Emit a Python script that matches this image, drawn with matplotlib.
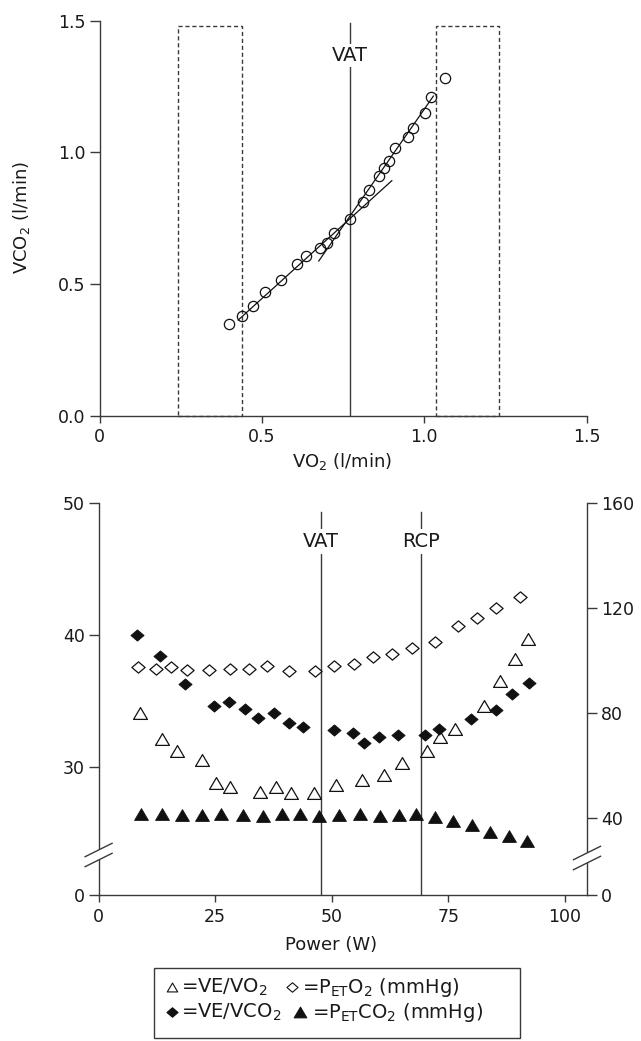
import matplotlib
matplotlib.use("Agg")
import matplotlib.pyplot as plt
from matplotlib.patches import Rectangle, Polygon
from matplotlib.lines import Line2D
from matplotlib.path import Path

plt.rcParams['font.family'] = ['DejaVu Sans']
plt.rcParams['mathtext.fontset'] = 'custom'
plt.rcParams['mathtext.rm'] = 'DejaVu Sans'

# ---------------- top panel data ----------------
vo2 = [0.400, 0.439, 0.474, 0.511, 0.558, 0.607, 0.635, 0.679, 0.700, 0.722, 0.772,
       0.810, 0.830, 0.860, 0.877, 0.892, 0.909, 0.949, 0.964, 1.001, 1.021, 1.063]
vco2 = [0.348, 0.379, 0.418, 0.470, 0.515, 0.577, 0.609, 0.638, 0.658, 0.694, 0.746,
        0.812, 0.856, 0.912, 0.941, 0.968, 1.016, 1.058, 1.093, 1.149, 1.211, 1.282]
fit_low_vo2 = [0.427, 0.900]
fit_low_vco2 = [0.364, 0.893]
fit_high_vo2 = [0.675, 1.028]
fit_high_vco2 = [0.588, 1.214]
vat_vo2 = 0.771
window_left = [0.242, 0.440]
window_right = [1.035, 1.231]
window_top = 1.48
top_ticks = [0, 0.5, 1.0, 1.5]
top_xticklabels = ['0', '0.5', '1.0', '1.5']
top_yticklabels = ['0.0', '0.5', '1.0', '1.5']

# ---------------- bottom panel data ----------------
power_ve_vo2 = [8.8, 13.5, 16.8, 22.1, 25.1, 28.2, 34.6, 38.1, 41.2, 46.1, 50.8,
                56.5, 61.2, 65.0, 70.5, 73.2, 76.3, 82.7, 86.0, 89.3, 92.0]
ve_vo2 = [34.1, 32.1, 31.2, 30.5, 28.8, 28.5, 28.1, 28.5, 28.0, 28.0, 28.6,
          29.0, 29.4, 30.3, 31.2, 32.3, 32.9, 34.6, 36.5, 38.2, 39.7]
power_ve_vco2 = [8.2, 13.1, 18.5, 24.7, 27.9, 31.4, 34.2, 37.7, 40.8, 43.9, 50.4,
                 54.5, 57.0, 60.2, 64.2, 69.9, 73.0, 79.8, 85.1, 88.7, 92.2]
ve_vco2 = [40.0, 38.4, 36.3, 34.6, 34.9, 34.4, 33.7, 34.1, 33.3, 33.0, 32.8,
           32.6, 31.8, 32.3, 32.4, 32.4, 32.9, 33.6, 34.3, 35.5, 36.4]
power_peto2 = [8.5, 12.2, 15.6, 18.9, 23.6, 28.2, 32.3, 36.0, 40.8, 46.4,
               50.5, 54.7, 58.8, 62.8, 67.2, 72.2, 77.0, 81.1, 85.1, 90.3]
peto2 = [97.6, 96.8, 97.4, 96.4, 96.4, 96.6, 96.8, 97.9, 96.0, 96.1,
         97.9, 98.7, 101.2, 102.5, 104.6, 107.2, 113.1, 116.1, 119.9, 124.3]
power_petco2 = [9.0, 13.5, 17.9, 22.2, 26.3, 31.0, 35.3, 39.3, 43.1, 47.3, 51.5,
                56.0, 60.4, 64.4, 68.1, 72.2, 76.0, 80.0, 83.8, 87.9, 91.8]
petco2 = [41.7, 41.6, 41.2, 41.1, 41.5, 41.2, 40.9, 41.5, 41.5, 40.6, 41.2,
          41.7, 40.6, 41.1, 41.5, 40.3, 38.9, 37.3, 34.5, 33.2, 31.3]
vat_power = 47.6
rcp_power = 69.1
left_ticks = [30, 40, 50]
right_ticks = [40, 80, 120, 160]
power_ticks = [0, 25, 50, 75, 100]

# ---------------- layout helpers ----------------
W, H = 641, 1041
fig = plt.figure(figsize=(W / 100, H / 100), dpi=100)
fig.patch.set_facecolor('white')


def fx(p):
    return p / W


def fy(p):
    return 1 - p / H


SPC = '#3a3a3a'
TXT = '#1a1a1a'
FS = 12.5      # tick labels
FL = 13        # axis labels
FA = 14        # VAT / RCP annotations
FG = 14        # legend text

# ================= TOP PANEL =================
ax1 = fig.add_axes([fx(99.5), fy(416), (586.7 - 99.5) / W, (416 - 20.7) / H])
ax1.set_xlim(0, 1.5)
ax1.set_ylim(0, 1.5)
for s in ['top', 'right']:
    ax1.spines[s].set_visible(False)
for s in ['left', 'bottom']:
    ax1.spines[s].set_color(SPC)
    ax1.spines[s].set_linewidth(1.0)
ax1.set_xticks(top_ticks)
ax1.set_xticklabels(top_xticklabels)
ax1.set_yticks(top_ticks)
ax1.set_yticklabels(top_yticklabels)
ax1.tick_params(axis='x', length=5, width=1.0, color=SPC, pad=4, labelsize=FS, labelcolor=TXT)
ax1.tick_params(axis='y', length=7, width=1.0, color=SPC, pad=3, labelsize=FS, labelcolor=TXT)

for xs in (window_left, window_right):
    ax1.add_patch(Rectangle((xs[0], 0), xs[1] - xs[0], window_top, fill=False,
                            edgecolor=SPC, lw=1.0, ls=(0, (3, 2)), clip_on=False))

ax1.plot([vat_vo2, vat_vo2], [0, 1.49], color=SPC, lw=1.0, zorder=2)
ax1.text(vat_vo2, 1.367, 'VAT', ha='center', va='center', fontsize=FA, color=TXT,
         bbox=dict(facecolor='white', edgecolor='none', pad=1.5), zorder=3)

ax1.plot(fit_low_vo2, fit_low_vco2, color='#111111', lw=0.9, zorder=4)
ax1.plot(fit_high_vo2, fit_high_vco2, color='#111111', lw=0.9, zorder=4)
ax1.plot(vo2, vco2, ls='none', marker='o', ms=7.4, mfc='none', mec='#111111',
         mew=0.9, zorder=5, clip_on=False)

fig.text(fx(342), fy(462), 'VO$\\mathregular{_2}$ (l/min)', ha='center', va='center',
         fontsize=FL, color=TXT)
fig.text(fx(22), fy(218), 'VCO$\\mathregular{_2}$ (l/min)', ha='center', va='center',
         fontsize=FL, color=TXT, rotation=90)

# ================= BOTTOM PANEL =================
top_px, bot_px = 503, 895
L_bottom = 50 - (bot_px - top_px) / 13.2
R_bottom = 160 - (bot_px - top_px) / 2.625

ax2 = fig.add_axes([fx(98.6), fy(bot_px), (587 - 98.6) / W, (bot_px - top_px) / H])
ax2.set_xlim(0, 104.7)
ax2.set_ylim(L_bottom, 50)
ax2r = ax2.twinx()
ax2r.set_ylim(R_bottom, 160)

for s in ['top', 'right']:
    ax2.spines[s].set_visible(False)
for s in ['top', 'left', 'bottom']:
    ax2r.spines[s].set_visible(False)
for sp in [ax2.spines['left'], ax2.spines['bottom'], ax2r.spines['right']]:
    sp.set_color(SPC)
    sp.set_linewidth(1.0)

ax2.set_xticks(power_ticks)
ax2.set_xticklabels([str(t) for t in power_ticks])
ax2.set_yticks([L_bottom] + left_ticks)
ax2.set_yticklabels(['0'] + [str(t) for t in left_ticks])
ax2r.set_yticks([R_bottom] + right_ticks)
ax2r.set_yticklabels(['0'] + [str(t) for t in right_ticks])
ax2.tick_params(axis='x', length=5, width=1.0, color=SPC, pad=4, labelsize=FS, labelcolor=TXT)
ax2.tick_params(axis='y', length=7, width=1.0, color=SPC, pad=3, labelsize=FS, labelcolor=TXT)
ax2r.tick_params(axis='y', length=7, width=1.0, color=SPC, pad=3, labelsize=FS, labelcolor=TXT)

line_top = 49.34
label_y = 47.07
for xp, lab in [(vat_power, 'VAT'), (rcp_power, 'RCP')]:
    ax2.plot([xp, xp], [L_bottom, line_top], color=SPC, lw=1.0, zorder=2)
    ax2.text(xp, label_y, lab, ha='center', va='center', fontsize=FA, color=TXT,
             bbox=dict(facecolor='white', edgecolor='none', pad=2.0), zorder=3)

diamond = Path([(-1, 0), (0, 0.85), (1, 0), (0, -0.85), (-1, 0)],
               [Path.MOVETO, Path.LINETO, Path.LINETO, Path.LINETO, Path.CLOSEPOLY])
triangle = Path([(0, 0.85), (-1, -0.85), (1, -0.85), (0, 0.85)],
                [Path.MOVETO, Path.LINETO, Path.LINETO, Path.CLOSEPOLY])

ax2.plot(power_ve_vo2, ve_vo2, ls='none', marker=triangle, ms=10, mfc='white',
         mec='#111111', mew=0.9, zorder=5)
ax2.plot(power_ve_vco2, ve_vco2, ls='none', marker=diamond, ms=9.5, mfc='#111111',
         mec='#111111', mew=0.6, zorder=5)
ax2r.plot(power_peto2, peto2, ls='none', marker=diamond, ms=9.5, mfc='white',
          mec='#111111', mew=0.9, zorder=5)
ax2r.plot(power_petco2, petco2, ls='none', marker=triangle, ms=10, mfc='#111111',
          mec='#111111', mew=0.6, zorder=5)

fig.text(fx(331), fy(945), 'Power (W)', ha='center', va='center', fontsize=FL, color=TXT)


# axis break marks
def axis_break(xc, yc):
    dx, dy, sep = 13.5, 6.7, 5
    a0 = (xc - dx, yc - sep + dy)
    a1 = (xc + dx, yc - sep - dy)
    b0 = (xc - dx, yc + sep + dy)
    b1 = (xc + dx, yc + sep - dy)
    poly = Polygon([(fx(a0[0] + 9), fy(a0[1] - 4.4)), (fx(a1[0] - 9), fy(a1[1] + 4.4)),
                    (fx(b1[0] - 9), fy(b1[1] + 4.4)), (fx(b0[0] + 9), fy(b0[1] - 4.4))],
                   closed=True, facecolor='white', edgecolor='none',
                   transform=fig.transFigure, zorder=5)
    fig.add_artist(poly)
    for p0, p1 in [(a0, a1), (b0, b1)]:
        fig.add_artist(Line2D([fx(p0[0]), fx(p1[0])], [fy(p0[1]), fy(p1[1])],
                              color=SPC, lw=1.0, transform=fig.transFigure, zorder=6))


axis_break(98.6, 855)
axis_break(587, 858)

# ================= LEGEND BOX =================
fig.add_artist(Rectangle((fx(154), fy(1038)), (520 - 154) / W, (1038 - 968) / H,
                         transform=fig.transFigure, fill=False, edgecolor=SPC, lw=1.0))

leg_items = [
    (172, 181, 987, triangle, 'white', 7.5, '=VE/VO$\\mathregular{_2}$'),
    (292, 302, 987, diamond, 'white', 8.0, '=P$\\mathregular{_{ET}}$O$\\mathregular{_2}$ (mmHg)'),
    (172, 181, 1012, diamond, '#111111', 8.0, '=VE/VCO$\\mathregular{_2}$'),
    (300, 312, 1012, triangle, '#111111', 9.0, '=P$\\mathregular{_{ET}}$CO$\\mathregular{_2}$ (mmHg)'),
]
for xm, xt, yp, mk, fc, msz, lab in leg_items:
    fig.add_artist(Line2D([fx(xm)], [fy(yp)], ls='none', marker=mk, ms=msz, mfc=fc,
                          mec='#111111', mew=0.8, transform=fig.transFigure))
    fig.text(fx(xt), fy(yp + 6), lab, ha='left', va='baseline', fontsize=FG, color=TXT)

fig.savefig('out.png', dpi=100)
